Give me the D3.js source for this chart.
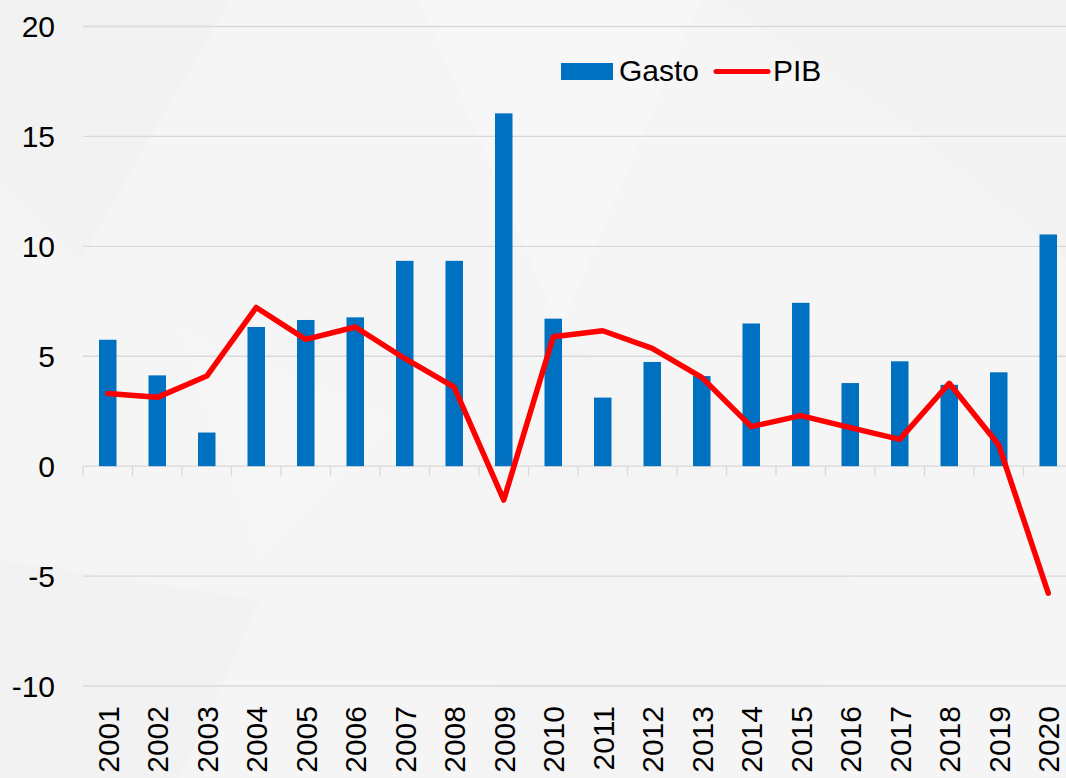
<!DOCTYPE html>
<html>
<head>
<meta charset="utf-8">
<script src="https://cdn.jsdelivr.net/npm/d3@7"></script>
<style>
  html, body { margin: 0; padding: 0; background: #f5f5f5; overflow: hidden; }
  text { font-family: "Liberation Sans", Arial, sans-serif; fill: #000; }
</style>
</head>
<body>
<svg class="chart"></svg>
<script>
var years = ["2001","2002","2003","2004","2005","2006","2007","2008","2009","2010",
             "2011","2012","2013","2014","2015","2016","2017","2018","2019","2020"];
var gasto = [5.75, 4.13, 1.53, 6.33, 6.65, 6.77, 9.34, 9.34, 16.05, 6.71,
             3.12, 4.74, 4.1, 6.49, 7.43, 3.78, 4.77, 3.7, 4.27, 10.54];
var pib = [3.31, 3.13, 4.1, 7.22, 5.77, 6.33, 4.9, 3.59, -1.54, 5.89,
           6.16, 5.36, 4.04, 1.8, 2.3, 1.75, 1.22, 3.77, 0.96, -5.78];
var yTicks = [-10, -5, 0, 5, 10, 15, 20];

var frameWidth = 1066;
var frameHeight = 778;
var left = 83;

var svg = d3.select(".chart")
  .attr("width", frameWidth)
  .attr("height", frameHeight);

// faint background facets
var bg = svg.append("g");
bg.append("rect").attr("width", frameWidth).attr("height", frameHeight).attr("fill", "#f5f5f5");
var facets = [
  [[0,0],[230,0],[80,260],[0,180]],
  [[0,560],[260,600],[180,778],[0,778]],
  [[420,0],[700,0],[560,330]],
  [[720,0],[1066,0],[1066,260],[900,120]],
  [[560,330],[900,620],[700,778],[480,778]],
  [[180,330],[400,420],[260,560]]
];
var facetCols = ["#f2f2f2", "#f2f2f2", "#f7f7f7", "#f3f3f3", "#f4f4f4", "#f6f6f6"];
bg.selectAll("polygon").data(facets).enter().append("polygon")
  .attr("points", function(d) { return d.map(function(p) { return p.join(","); }).join(" "); })
  .attr("fill", function(d, i) { return facetCols[i]; });

var xScale = d3.scaleBand().domain(years).range([left, left + 49.5 * years.length]);
var yScale = d3.scaleLinear().domain([-10, 20]).range([686, 26.5]);
var bw = xScale.bandwidth();
var barW = 17.5;

// gridlines
svg.append("g").selectAll("line").data(yTicks).enter().append("line")
  .attr("x1", left).attr("x2", frameWidth)
  .attr("y1", function(d) { return yScale(d); })
  .attr("y2", function(d) { return yScale(d); })
  .attr("stroke", "#d9d9d9").attr("stroke-width", 1.3);

// y labels
svg.append("g").selectAll("text").data(yTicks).enter().append("text")
  .attr("x", 55)
  .attr("y", function(d) { return yScale(d); })
  .attr("dy", "0.36em")
  .attr("text-anchor", "end")
  .style("font-size", "30px")
  .text(function(d) { return d; });

// category ticks on the zero line
var bounds = years.map(function(d) { return xScale(d); });
svg.append("g").selectAll("line").data(bounds).enter().append("line")
  .attr("x1", function(d) { return d; }).attr("x2", function(d) { return d; })
  .attr("y1", yScale(0)).attr("y2", yScale(0) + 10)
  .attr("stroke", "#d9d9d9").attr("stroke-width", 1.3);

// bars
svg.append("g").selectAll("rect").data(gasto).enter().append("rect")
  .attr("x", function(d, i) { return xScale(years[i]) + bw / 2 - barW / 2; })
  .attr("width", barW)
  .attr("y", function(d) { return yScale(Math.max(0, d)); })
  .attr("height", function(d) { return Math.abs(yScale(d) - yScale(0)); })
  .attr("fill", "#0070c0");

// PIB line
var line = d3.line()
  .x(function(d, i) { return xScale(years[i]) + bw / 2; })
  .y(function(d) { return yScale(d); });
svg.append("path").datum(pib)
  .attr("d", line)
  .attr("fill", "none")
  .attr("stroke", "#ff0000")
  .attr("stroke-width", 5.5)
  .attr("stroke-linejoin", "round")
  .attr("stroke-linecap", "round");

// year labels
svg.append("g").selectAll("text").data(years).enter().append("text")
  .attr("transform", function(d) {
    return "translate(" + (xScale(d) + bw / 2) + "," + 706 + ") rotate(-90)";
  })
  .attr("dy", "0.36em")
  .attr("text-anchor", "end")
  .style("font-size", "30px")
  .text(function(d) { return d; });

// legend
var legend = svg.append("g");
legend.append("rect").attr("x", 561).attr("y", 63).attr("width", 52).attr("height", 17).attr("fill", "#0070c0");
legend.append("text").attr("x", 619).attr("y", 81).style("font-size", "30px").text("Gasto");
legend.append("line").attr("x1", 716).attr("x2", 768).attr("y1", 71.5).attr("y2", 71.5)
  .attr("stroke", "#ff0000").attr("stroke-width", 5).attr("stroke-linecap", "round");
legend.append("text").attr("x", 773).attr("y", 81).style("font-size", "30px").text("PIB");
</script>
</body>
</html>
